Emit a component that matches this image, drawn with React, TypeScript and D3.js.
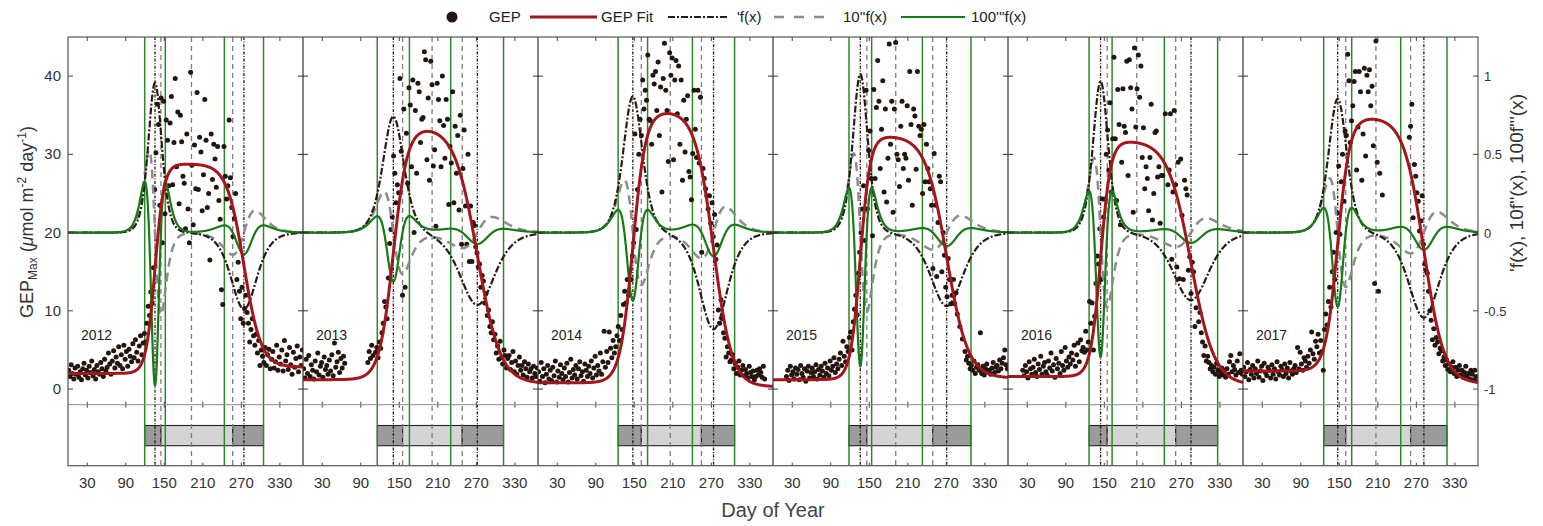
import React from 'react';
import * as d3 from 'd3';

const years = [2012, 2013, 2014, 2015, 2016, 2017];
const dayTicks = [30, 90, 150, 210, 270, 330];
const gepTicks = [0, 10, 20, 30, 40];
const derivTicks = [-1, -0.5, 0, 0.5, 1];

// Double-logistic fit parameters, one entry per year
const fitBaseStart = [2.0, 1.2, 0.8, 1.2, 1.6, 2.3];
const fitBaseEnd = [2.8, 0.7, 0.3, 1.4, 0.5, 0.7];
const fitPeak = [28.8, 33.6, 35.6, 32.4, 31.8, 34.8];
const fitSos = [135.5, 140.7, 147.7, 136.0, 144.2, 147.5];
const fitRiseScale = [7.0, 10.9, 10.0, 7.7, 7.8, 9.5];
const fitEos = [274.0, 271.5, 273.4, 270.5, 285.0, 281.7];
const fitFallScale = [13.3, 17.8, 14.3, 16.5, 18.1, 15.7];

// Observed GEP on every second day of the year (day 1, 3, 5, ... 365); null = no retrieval
const gep2012 = [
  2.4, 1.6, 3.1, 2.0, 1.3, 2.7, 1.9, 2.9, 1.5, 2.2,
  1.2, 2.6, 3.3, 1.8, 2.4, 1.4, 2.9, 2.1, 3.6, 1.7,
  2.5, 1.3, 3.0, 2.2, 1.9, 3.4, 2.6, 1.6, 3.8, 2.3,
  2.8, 4.6, 3.2, 1.9, 3.6, 4.9, 2.7, 4.1, 3.3, 5.4,
  3.0, 4.4, 2.6, 5.6, 3.8, 4.8, 2.9, 5.1, 4.2, 3.5,
  5.8, 4.0, 6.3, 4.7, 3.6, 5.5, 6.8, 4.4, 5.9, 7.1,
  6.0, 8.4, 10.6, 9.4, 12.4, 11.0, 15.5, 25.5, 30.2, 36.4,
  33.8, 23.5, 37.2, 18.7, 36.8, 22.4, 34.4, 31.8, 26.0, 34.0,
  37.4, 26.1, 31.5, 39.7, 28.4, 35.4, 23.7, 35.0, 31.6, 27.2,
  26.3, 20.5, 32.6, 23.0, 18.7, 40.5, 28.6, 21.0, 31.2, 25.6,
  37.9, 25.5, 32.2, 30.3, 22.8, 27.4, 37.0, 31.8, 23.2, 25.0,
  16.5, 32.6, 26.8, 31.3, 29.4, 25.8, 31.0, 24.1, 21.7, 12.7,
  10.8, 31.0, 27.2, 24.3, 26.0, 34.4, 27.0, 23.2, 19.5, 21.8,
  25.0, 14.0, 16.2, 12.5, 9.0, 13.0, 8.4, 10.3, 12.0, 9.8,
  8.4, 6.0, 7.6, 9.0, 6.8, 5.6, 7.0, 4.6, 6.2, 3.0,
  5.0, 4.2, 3.4, 5.3, 3.0, 4.4, 5.1, 2.6, 3.8, 4.8,
  2.7, 3.5, 5.6, 2.4, 4.1, 3.2, 5.0, 2.3, 6.2, 3.6,
  4.4, 2.5, 5.3, 3.1, 1.9, 4.7, 2.8, 3.9, 5.5, 2.2,
  4.1, 3.0, 5.0,
];
const gep2013 = [
  2.6, 1.4, 3.8, 2.0, 4.3, 1.6, 3.1, 2.4, 1.3, 3.6,
  2.2, 4.6, 1.8, 2.9, 3.4, 1.5, 4.1, 2.5, 3.0, 1.9,
  3.7, 2.3, 4.4, 1.7, 5.9, 2.8, 3.5, 4.7, 2.1, 3.9,
  2.7, 4.2, 3.3, null, null, null, null, null, null, null,
  null, null, null, null, null, null, null, null, null, null,
  3.4, 4.8, 3.9, 5.6, 4.3, null, 4.7, 5.3, 4.0, 6.0,
  5.2, 7.2, 8.4, 11.2, 10.5, 9.0, 14.2, 18.6, 20.4, 22.0,
  29.8, 27.6, 23.8, 26.1, 25.1, 39.7, 30.4, 12.0, 35.8, 13.0,
  32.7, 26.3, 38.5, 36.3, 28.4, 39.5, 20.0, 35.6, 27.6, 39.1,
  38.0, 31.5, 34.5, 34.7, 43.1, 42.1, 29.3, 37.2, 26.7, 41.9,
  38.9, 28.5, 30.6, 20.8, 39.1, 37.0, 34.3, 28.4, 40.0, 33.7,
  29.5, 37.0, 34.5, 23.6, 31.0, 28.9, 38.0, 23.8, 33.6, 27.6,
  32.4, 22.9, 35.0, 18.5, 28.2, 33.1, 23.4, 18.5, 30.0, 16.3,
  23.4, 16.3, 21.3, 20.9, 18.2, 17.4, 15.6, 16.0, 13.0, 14.5,
  13.8, 11.0, 12.2, 9.4, 10.1, 8.0, 7.2, 8.6, 6.3, 7.0,
  4.6, 5.5, 3.8, 6.1, 4.0, 3.2, 5.0, 4.3, 2.7, 3.9,
  4.3, 2.5, 3.4, 4.8, 2.2, 3.6, 1.9, 3.0, 4.1, 2.4,
  3.0, 1.8, 3.5, 2.6, 1.5, 3.2, 2.2, 2.6, 1.4, 2.9,
  2.0, 1.6, 2.7,
];
const gep2014 = [
  2.2, 1.0, 3.4, 1.6, 2.6, 0.8, 1.9, 3.0, 1.3, 2.4,
  1.1, 2.8, 1.7, 3.6, 0.9, 2.3, 1.5, 3.1, 2.0, 1.2,
  2.7, 1.6, 3.3, 0.9, 2.1, 3.8, 1.4, 2.5, 1.8, 3.0,
  1.3, 2.6, 3.5, 1.7, 2.2, 1.0, 3.2, 2.4, 1.6, 2.9,
  2.0, 3.6, 1.4, 2.7, 4.2, 1.8, 3.0, 2.3, 4.6, 1.9,
  3.5, 7.4, 2.8, 4.8, 3.4, 7.3, 5.2, 4.0, 6.2, 4.6,
  5.4, 6.8, 8.0, 6.2, 9.4, 7.6, 10.8, 12.5, 11.0, 14.0,
  12.0, 15.2, 14.0, 17.0, 18.7, 32.6, 20.4, 25.5, 30.0, 34.5,
  32.4, 39.5, 35.8, 38.2, 36.9, 42.7, 34.5, 34.3, 31.3, 40.1,
  39.0, 40.6, 35.6, 41.8, 32.4, 38.6, 25.2, 39.7, 44.2, 38.2,
  35.6, 29.1, 43.0, 40.1, 42.3, 29.3, 39.5, 42.0, 35.2, 41.3,
  31.3, 39.5, 26.7, 36.9, 30.3, 34.5, 37.5, 27.8, 27.1, 24.2,
  30.1, 38.2, 33.2, 29.6, 38.2, 28.9, 37.3, 17.5, 28.2, 26.9,
  25.6, 24.7, 23.0, 24.7, 21.2, 23.8, 19.5, 22.3, 16.6, 18.4,
  10.1, 8.4, 11.4, 9.0, 7.2, 6.5, 4.1, 5.4, 4.6, 3.5,
  3.7, 4.4, 2.6, 3.3, 2.0, 2.8, 3.6, 1.8, 2.4, 3.0,
  1.7, 2.5, 2.0, 1.4, 2.9, 2.1, 1.6, 2.3, 1.2, 1.6,
  2.4, 1.8, 2.6, 2.1, 1.5, 2.9, 1.3, null, null, null,
  null, null, null,
];
const gep2015 = [
  null, null, null, null, null, null, null, null, null, null,
  1.6, 2.4, 1.1, 2.9, 1.8, 2.2, 1.3, 2.7, 1.9, 2.5,
  1.2, 3.0, 2.0, 1.5, 2.6, 1.0, 2.3, 2.9, 1.4, 2.1,
  2.7, 1.6, 2.2, 3.1, 1.3, 2.5, 1.8, 2.9, 2.3, 1.5,
  3.3, 2.0, 2.7, 1.7, 3.6, 2.4, 2.9, 4.0, 2.1, 3.2,
  2.6, 3.8, 4.6, 3.0, 6.1, 4.2, 3.5, 5.4, 4.8, 6.6,
  7.3, 5.0, 8.6, 10.2, 12.0, 9.5, 14.8, 17.5, 20.0, 23.0,
  26.0, 19.0, 38.2, 23.0, 30.5, 33.0, 26.9, 19.6, 38.3, 26.9,
  36.0, 42.0, 36.8, 28.2, 33.2, 39.4, 25.2, 35.8, 23.9, 29.5,
  44.1, 31.3, 36.8, 22.6, 35.8, 44.3, 30.0, 29.3, 25.9, 33.6,
  36.8, 28.2, 30.0, 29.5, 36.2, 26.7, 40.6, 33.8, 23.5, 35.8,
  34.9, 28.1, 40.6, 33.6, 32.4, 33.2, 25.0, 33.8, 26.5, 31.3,
  28.2, 26.5, 25.6, 23.5, 15.4, 30.1, 23.5, 14.4, 21.3, 27.2,
  26.5, 15.0, 20.0, 17.1, 13.0, 11.8, 16.7, 14.0, 10.9, 12.0,
  14.0, 10.9, 12.3, 9.6, null, 8.0, null, 6.4, null, 4.8,
  3.7, 4.2, 3.3, 2.6, 3.0, 2.4, 3.6, 2.0, 2.8, 3.1,
  2.4, 7.2, 2.0, 2.9, 1.8, 2.6, 3.2, 2.2, 2.4, 1.9,
  2.7, 3.4, 2.1, 2.8, 3.0, 2.3, 3.7, 2.6, 3.3, 4.0,
  5.0, 3.1, 2.6,
];
const gep2016 = [
  null, null, null, null, null, null, null, null, null, null,
  null, 2.4, 1.7, 3.0, 2.2, 1.4, 3.5, 2.6, 1.9, 2.8,
  3.8, 2.1, 1.6, 3.2, 2.5, 4.2, 1.9, 2.9, 3.4, 2.2,
  1.8, 3.6, 2.7, 4.6, 2.3, 3.1, 1.5, 3.9, 2.6, 3.3,
  2.0, 4.8, 3.0, 2.4, 5.3, 3.6, 2.8, 4.1, 3.2, 4.6,
  3.7, 5.6, 2.9, 4.4, 5.9, 3.5, 6.3, 4.9, 5.3, 4.7,
  7.4, 5.0, 6.0, 11.2, 8.4, 11.0, 5.0, 9.3, 13.5, 17.0,
  16.0, 20.5, 14.0, 24.3, 22.0, 24.3, 30.0, 33.1, 28.0, 36.6,
  25.2, 32.0, 42.4, 32.0, 24.1, 38.3, 33.8, 21.0, 29.0, 38.4,
  33.6, 32.8, 41.9, 27.3, 42.1, 38.5, 35.8, 22.6, 43.6, 33.5,
  38.4, 42.7, 37.3, 41.3, 29.6, 33.4, 25.6, 28.4, 26.9, 22.8,
  29.6, 36.4, 21.6, 25.0, 32.8, 33.0, 27.1, 28.4, 21.2, 27.3,
  27.3, null, 35.2, null, 26.1, 28.0, 35.2, 16.6, 25.2, 35.6,
  26.1, 15.6, 29.0, 14.1, 29.4, 22.2, 14.0, 26.7, 25.6, 24.8,
  15.2, 16.9, 12.2, 16.2, 15.0, 8.0, 10.4, null, 8.6, 9.8,
  7.2, 6.0, 4.3, 5.5, 3.6, 4.2, 3.4, 2.6, 3.0, 2.2,
  2.8, 1.9, 3.3, 2.4, 1.6, 2.1, 2.7, 1.8, 2.4, 1.5,
  2.6, 1.9, 3.5, 4.3, 2.2, 3.0, 2.5, 1.8, 3.6, 2.1,
  4.5, 2.4, 1.9,
];
const gep2017 = [
  2.8, 1.6, 2.2, 3.4, 1.2, 2.5, 1.9, 3.0, 1.4, 2.6,
  2.0, 3.6, 1.5, 2.3, 2.9, 1.1, 3.3, 2.1, 1.7, 2.8,
  2.4, 1.4, 3.1, 1.9, 2.6, 1.3, 3.5, 2.2, 1.8, 2.9,
  2.5, 1.6, 3.2, 2.0, 2.7, 1.4, 3.4, 2.3, 1.9, 2.6,
  3.0, 2.1, 5.3, 2.6, 4.7, 3.2, 2.4, 4.0, 3.6, 2.8,
  4.2, 3.3, 5.0, 7.3, 4.5, 3.8, 6.1, 5.4, 7.0, 4.6,
  6.2, 4.8, 2.4, 7.6, 9.6, 8.2, 11.2, 13.0, 10.5, 15.0,
  17.5, 14.0, 20.0, 22.5, 28.5, 19.8, 26.5, 30.0, 24.0, 33.0,
  32.4, 42.8, 39.4, 31.5, 34.3, 36.2, 39.3, 40.6, 28.0, 33.5,
  40.6, 38.0, 26.7, 32.6, 41.0, 29.8, 40.1, 38.0, 40.8, 36.2,
  38.7, 31.1, 13.5, 44.5, 29.0, 12.5, 27.6, null, 24.8, null,
  null, null, null, null, null, null, null, null, null, null,
  null, null, null, null, null, null, null, null, null, 32.2,
  33.6, 36.4, 21.9, 28.7, 27.2, 25.1, 24.0, 20.2, 21.5, 24.7,
  18.5, 16.0, 15.2, 14.8, 12.5, 10.0, 8.8, 6.3, 7.7, 5.6,
  6.6, 6.0, 4.5, 5.2, 4.9, 3.6, 4.1, 3.0, 3.7, 2.5,
  3.2, 2.2, 2.8, 3.5, 2.0, 2.8, 1.6, 2.4, 3.0, 1.8,
  2.4, 1.5, 2.1, 2.9, 1.7, 2.0, 1.3, 2.4, 1.9, 1.2,
  2.4, 1.6, 1.0,
];
const gepByYear = [gep2012, gep2013, gep2014, gep2015, gep2016, gep2017];

// layout
const WIDTH = 1543;
const HEIGHT = 526;
const L = 68;
const PW = 235;
const R = L + 6 * PW;
const T = 37;
const B1 = 404.7;
const B2 = 465.7;
const BAR_TOP = 425.5;
const BAR_BOTTOM = 445.7;
const LEG_Y = 17;

const FONT = "'Liberation Sans', Arial, Helvetica, sans-serif";
const C_DOT = '#25150f';
const C_FIT = '#a3161b';
const C_D1 = '#2b1a12';
const C_D2 = '#8c8c8c';
const C_D3 = '#167a16';
const C_VGREEN = '#2a8a2a';
const DASH_D1 = '7,2,2,2';
const DASH_D2 = '9,6';

const sig = (u: number) => 1 / (1 + Math.exp(-u));
const sig1 = (u: number) => { const s = sig(u); return s * (1 - s); };
const sig2 = (u: number) => { const s = sig(u); return s * (1 - s) * (1 - 2 * s); };
const sig3 = (u: number) => { const s = sig(u); return s * (1 - s) * (1 - 6 * s + 6 * s * s); };

function model(i: number) {
  const b0 = fitBaseStart[i];
  const a1 = fitPeak[i] - b0;
  const a2 = fitPeak[i] - fitBaseEnd[i];
  const s0 = fitSos[i], k1 = fitRiseScale[i];
  const e0 = fitEos[i], k2 = fitFallScale[i];
  const u1 = (t: number) => (t - s0) / k1;
  const u2 = (t: number) => (t - e0) / k2;
  return {
    k1, k2,
    f: (t: number) => b0 + a1 * sig(u1(t)) - a2 * sig(u2(t)),
    d1: (t: number) => (a1 / k1) * sig1(u1(t)) - (a2 / k2) * sig1(u2(t)),
    d2: (t: number) => (a1 / (k1 * k1)) * sig2(u1(t)) - (a2 / (k2 * k2)) * sig2(u2(t)),
    d3: (t: number) => (a1 / (k1 * k1 * k1)) * sig3(u1(t)) + (a2 / (k2 * k2 * k2)) * sig3(u2(t)),
  };
}

const grid = d3.range(0, 366.001, 0.25);
const fine = d3.range(0, 366.001, 0.05);

function argBest(lo: number, hi: number, fn: (t: number) => number, sign: number) {
  let best = lo, bv = -Infinity;
  for (const t of fine) {
    if (t < lo || t > hi) continue;
    const v = sign * fn(t);
    if (v > bv) { bv = v; best = t; }
  }
  return best;
}

const yL = d3.scaleLinear().domain([-2, 45]).range([B1, T]);
const yR = d3.scaleLinear().domain([-1.1, 1.25]).range([B1, T]);

export default function App() {
  const panels = years.map((year, i) => {
    const x = d3.scaleLinear().domain([0, 366]).range([L + i * PW, L + (i + 1) * PW]);
    const m = model(i);
    const fitPath = d3.line<number>().x((t) => x(t)).y((t) => yL(m.f(t)))(grid) || '';
    const d1Path = d3.line<number>().x((t) => x(t)).y((t) => yR(m.d1(t)))(grid) || '';
    const d2Path = d3.line<number>().x((t) => x(t)).y((t) => yR(10 * m.d2(t)))(grid) || '';
    const d3Path = d3.line<number>().x((t) => x(t)).y((t) => yR(100 * m.d3(t)))(grid) || '';

    const tRise = argBest(0, 366, m.d1, 1);
    const tFall = argBest(0, 366, m.d1, -1);
    const tTop = argBest(tRise, tFall, m.f, 1);
    const g1 = argBest(tRise, tTop, m.d2, -1);
    const g3 = argBest(tTop, tFall, m.d2, -1);
    const g2 = argBest(g1, g3, m.d2, 1);
    const gr1 = argBest(tRise - 4 * m.k1, tRise, m.d3, 1);
    const gr2 = argBest(tRise, tRise + 4 * m.k1, m.d3, 1);
    const gr3 = argBest(tFall - 4 * m.k2, tFall, m.d3, 1);
    const gr4 = argBest(tFall, tFall + 4 * m.k2, m.d3, 1);

    const pts = gepByYear[i]
      .map((v, j) => (v == null ? null : { t: 1 + 2 * j, v }))
      .filter((p): p is { t: number; v: number } => p !== null);

    return { year, i, x, fitPath, d1Path, d2Path, d3Path, tRise, tFall, g1, g2, g3, gr1, gr2, gr3, gr4, pts };
  });

  return (
    <svg width={WIDTH} height={HEIGHT} style={{ position: 'fixed', left: 0, top: 0, background: '#fff' }} fontFamily={FONT}>
      <defs>
        {panels.map((p) => (
          <clipPath id={`clip-${p.year}`} key={p.year}>
            <rect x={p.x(0)} y={T} width={p.x(366) - p.x(0)} height={B1 - T} />
          </clipPath>
        ))}
      </defs>

      {/* legend */}
      <g fontSize={15} fill="#222">
        <circle cx={452} cy={LEG_Y} r={5.5} fill={C_DOT} />
        <text x={489} y={LEG_Y + 5}>GEP</text>
        <line x1={530} x2={597} y1={LEG_Y} y2={LEG_Y} stroke={C_FIT} strokeWidth={3} />
        <text x={601} y={LEG_Y + 5}>GEP Fit</text>
        <line x1={668} x2={727} y1={LEG_Y} y2={LEG_Y} stroke={C_D1} strokeWidth={2.2} strokeDasharray={DASH_D1} />
        <text x={737} y={LEG_Y + 5}>'f(x)</text>
        <line x1={774} x2={834} y1={LEG_Y} y2={LEG_Y} stroke={C_D2} strokeWidth={2.5} strokeDasharray="10,10" />
        <text x={843} y={LEG_Y + 5}>10''f(x)</text>
        <line x1={901} x2={965} y1={LEG_Y} y2={LEG_Y} stroke={C_D3} strokeWidth={2.2} />
        <text x={971} y={LEG_Y + 5}>100'''f(x)</text>
      </g>

      {panels.map((p) => (
        <g key={p.year}>
          {/* season bars */}
          <rect x={p.x(p.gr1)} y={BAR_TOP} width={p.x(p.g1) - p.x(p.gr1)} height={BAR_BOTTOM - BAR_TOP} fill="#9b9b9b" stroke="#222" strokeWidth={1.1} />
          <rect x={p.x(p.g1)} y={BAR_TOP} width={p.x(p.g3) - p.x(p.g1)} height={BAR_BOTTOM - BAR_TOP} fill="#d4d4d4" stroke="#222" strokeWidth={1.1} />
          <rect x={p.x(p.g3)} y={BAR_TOP} width={p.x(p.gr4) - p.x(p.g3)} height={BAR_BOTTOM - BAR_TOP} fill="#9b9b9b" stroke="#222" strokeWidth={1.1} />

          {/* phenology markers */}
          {[p.g1, p.g2, p.g3].map((t, k) => (
            <line key={`g${k}`} x1={p.x(t)} x2={p.x(t)} y1={T} y2={B2} stroke="#7d7d7d" strokeWidth={1.3} strokeDasharray="5,4" />
          ))}
          {[p.tRise, p.tFall].map((t, k) => (
            <line key={`d${k}`} x1={p.x(t)} x2={p.x(t)} y1={T} y2={B2} stroke={C_D1} strokeWidth={1.3} strokeDasharray="3,1.6,1,1.6" />
          ))}
          {[p.gr1, p.gr2, p.gr3, p.gr4].map((t, k) => (
            <line key={`v${k}`} x1={p.x(t)} x2={p.x(t)} y1={T} y2={B2} stroke={C_VGREEN} strokeWidth={1.5} />
          ))}

          <g clipPath={`url(#clip-${p.year})`}>
            {p.pts.map((d, k) => (
              <circle key={k} cx={p.x(d.t)} cy={yL(d.v)} r={2.5} fill={C_DOT} />
            ))}
            <path d={p.d2Path} fill="none" stroke={C_D2} strokeWidth={2.5} strokeDasharray={DASH_D2} />
            <path d={p.d1Path} fill="none" stroke={C_D1} strokeWidth={2.2} strokeDasharray={DASH_D1} />
            <path d={p.d3Path} fill="none" stroke={C_D3} strokeWidth={2.2} />
            <path d={p.fitPath} fill="none" stroke={C_FIT} strokeWidth={3} />
          </g>

          <text x={p.x(0) + 13} y={340} fontSize={14} fill="#222">{p.year}</text>

          {/* day ticks */}
          {dayTicks.map((d) => (
            <g key={d} stroke="#444" strokeWidth={1}>
              <line x1={p.x(d)} x2={p.x(d)} y1={T} y2={T + 4} />
              <line x1={p.x(d)} x2={p.x(d)} y1={B1 - 3} y2={B1 + 3} />
              <line x1={p.x(d)} x2={p.x(d)} y1={B2} y2={B2 - 3} />
            </g>
          ))}
          {dayTicks.map((d) => (
            <text key={`l${d}`} x={p.x(d)} y={488} fontSize={15} fill="#333" textAnchor="middle">{d}</text>
          ))}
        </g>
      ))}

      {/* frame */}
      <line x1={L} x2={R} y1={B1} y2={B1} stroke="#8a8a8a" strokeWidth={1} />
      {panels.slice(1).map((p) => (
        <g key={`div${p.year}`}>
          <line x1={p.x(0)} x2={p.x(0)} y1={T} y2={B2} stroke="#333" strokeWidth={1.2} />
          {gepTicks.map((v) => (
            <line key={v} x1={p.x(0) - 5} x2={p.x(0) + 5} y1={yL(v)} y2={yL(v)} stroke="#333" strokeWidth={1} />
          ))}
        </g>
      ))}
      <rect x={L} y={T} width={R - L} height={B2 - T} fill="none" stroke="#555" strokeWidth={1.2} />

      {/* left axis */}
      {gepTicks.map((v) => (
        <g key={`yl${v}`}>
          <line x1={L} x2={L + 5} y1={yL(v)} y2={yL(v)} stroke="#444" />
          <text x={61} y={yL(v) + 5} fontSize={15} fill="#333" textAnchor="end">{v}</text>
        </g>
      ))}
      {/* right axis */}
      {derivTicks.map((v) => (
        <g key={`yr${v}`}>
          <line x1={R} x2={R - 5} y1={yR(v)} y2={yR(v)} stroke="#444" />
          <text x={1484} y={yR(v) + 5} fontSize={13} fill="#333">{v}</text>
        </g>
      ))}

      <text transform="translate(33,222) rotate(-90)" fontSize={18} fill="#333" textAnchor="middle">
        GEP<tspan fontSize={12} dy={4}>Max</tspan>
        <tspan dy={-4}> (</tspan><tspan fontStyle="italic">μ</tspan><tspan>mol m</tspan>
        <tspan fontSize={12} dy={-7}>-2</tspan>
        <tspan dy={7}> day</tspan>
        <tspan fontSize={12} dy={-7}>-1</tspan>
        <tspan dy={7}>)</tspan>
      </text>
      <text transform="translate(1523,183) rotate(-90)" fontSize={19} fill="#333" textAnchor="middle">
        'f(x), 10f''(x), 100f'''(x)
      </text>
      <text x={(L + R) / 2} y={517} fontSize={20} fill="#444" textAnchor="middle">Day of Year</text>
    </svg>
  );
}
